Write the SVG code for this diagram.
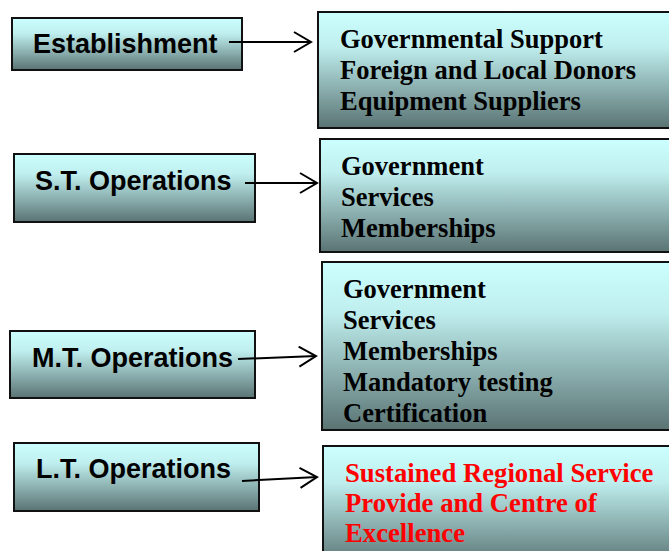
<svg xmlns="http://www.w3.org/2000/svg" width="669" height="551" viewBox="0 0 669 551">
<defs>
<linearGradient id="g" x1="0" y1="0" x2="0" y2="1">
<stop offset="0" stop-color="#ccffff"/>
<stop offset="0.3" stop-color="#bfeeee"/>
<stop offset="1" stop-color="#5a7373"/>
</linearGradient>
<marker id="ah" markerUnits="userSpaceOnUse" markerWidth="22" markerHeight="24" refX="18" refY="11" orient="auto">
<path d="M1,1 L18,11 L1,21" fill="none" stroke="#000" stroke-width="2"/>
</marker>
</defs>
<style>
.box{fill:url(#g);stroke:#111;stroke-width:2}
.lbl{font-family:"Liberation Sans",Arial,sans-serif;font-weight:bold;font-size:27px;fill:#000}
.itm{font-family:"Liberation Serif","Times New Roman",serif;font-weight:bold;font-size:26.5px;fill:#000}
.red{font-family:"Liberation Serif","Times New Roman",serif;font-weight:bold;font-size:26.7px;fill:#ff0000}
.con{stroke:#000;stroke-width:2;fill:none;marker-end:url(#ah)}
</style>
<rect width="669" height="551" fill="#fff"/>
<g id="establishment">
<rect class="box" x="12" y="18" width="230" height="52"/>
<text class="lbl" x="33" y="53">Establishment</text>
</g>
<g id="establishment-items">
<rect class="box" x="318" y="12" width="360" height="116"/>
<text class="itm" x="340" y="48">Governmental Support</text>
<text class="itm" x="340" y="79">Foreign and Local Donors</text>
<text class="itm" x="340" y="110">Equipment Suppliers</text>
</g>
<g id="st-operations">
<rect class="box" x="14" y="154" width="241" height="68"/>
<text class="lbl" x="35" y="190">S.T. Operations</text>
</g>
<g id="st-items">
<rect class="box" x="320" y="139" width="360" height="113"/>
<text class="itm" x="341" y="175">Government</text>
<text class="itm" x="341" y="206">Services</text>
<text class="itm" x="341" y="237">Memberships</text>
</g>
<g id="mt-operations">
<rect class="box" x="10" y="331" width="245" height="67"/>
<text class="lbl" x="32" y="367">M.T. Operations</text>
</g>
<g id="mt-items">
<rect class="box" x="322" y="262" width="360" height="168"/>
<text class="itm" x="343" y="298">Government</text>
<text class="itm" x="343" y="329">Services</text>
<text class="itm" x="343" y="360">Memberships</text>
<text class="itm" x="343" y="391">Mandatory testing</text>
<text class="itm" x="343" y="422">Certification</text>
</g>
<g id="lt-operations">
<rect class="box" x="14" y="443" width="245" height="68"/>
<text class="lbl" x="36" y="478">L.T. Operations</text>
</g>
<g id="lt-items">
<rect class="box" x="323" y="446" width="360" height="120"/>
<text class="red" x="345" y="482">Sustained Regional Service</text>
<text class="red" x="345" y="512">Provide and Centre of</text>
<text class="red" x="345" y="542">Excellence</text>
</g>
<g id="connectors">
<line class="con" x1="229" y1="42" x2="311" y2="42"/>
<line class="con" x1="245" y1="183" x2="317" y2="183"/>
<line class="con" x1="238" y1="359" x2="316" y2="356"/>
<line class="con" x1="242" y1="481" x2="317" y2="477"/>
</g>
</svg>
